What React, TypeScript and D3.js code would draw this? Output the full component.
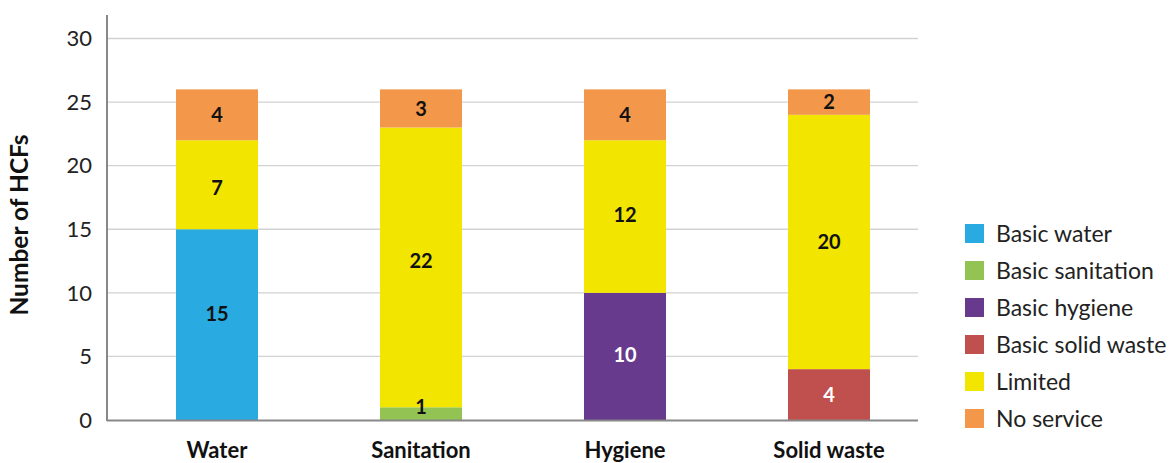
import React from "react";
import * as d3 from "d3";

const categories = ["Water", "Sanitation", "Hygiene", "Solid waste"];
const basicKeys = ["Basic water", "Basic sanitation", "Basic hygiene", "Basic solid waste"];
const basicValues = [15, 1, 10, 4];
const limitedValues = [7, 22, 12, 20];
const noServiceValues = [4, 3, 4, 2];
const yTicks = [0, 5, 10, 15, 20, 25, 30];

const seriesKeys = [...basicKeys, "Limited", "No service"];
const seriesColors = ["#29ABE2", "#92C353", "#673A8D", "#C0504D", "#F2E500", "#F3974A"];
const whiteLabelKeys = ["Basic hygiene", "Basic solid waste"];

// hand-placed value labels (vertical nudge in px from the segment centre)
const labelNudge: { [k: string]: number } = {
  "Water|Basic water": -11,
  "Water|Limited": 3,
  "Sanitation|Basic sanitation": -7,
  "Sanitation|Limited": -7,
  "Hygiene|Basic hygiene": -2,
  "Hygiene|Limited": -2,
};

const W = 1169;
const H = 463;
const FONT = "Lato, 'Noto Sans', sans-serif";

type Row = { [k: string]: number | string };

export default function App() {
  const rows: Row[] = categories.map((c, i) => {
    const r: Row = { category: c };
    basicKeys.forEach((k, j) => (r[k] = j === i ? basicValues[i] : 0));
    r["Limited"] = limitedValues[i];
    r["No service"] = noServiceValues[i];
    return r;
  });

  const stack = d3.stack<Row>().keys(seriesKeys).value((d, k) => d[k] as number);
  const layers = stack(rows);

  const x = d3
    .scaleBand<string>()
    .domain(categories)
    .range([115, 931])
    .paddingInner(0.598)
    .paddingOuter(0.299);
  const y = d3.scaleLinear().domain([0, 30]).range([420, 38.5]);
  const color = d3.scaleOrdinal<string, string>().domain(seriesKeys).range(seriesColors);

  const plotLeft = 107;
  const plotRight = 918;

  return (
    <svg
      width={W}
      height={H}
      style={{ position: "absolute", left: 0, top: 0, background: "#fff" }}
      fontFamily={FONT}
    >
      {/* gridlines */}
      {yTicks.slice(1).map((t) => (
        <line key={t} x1={plotLeft} x2={plotRight} y1={y(t)} y2={y(t)} stroke="#d2d2d2" strokeWidth={1.3} />
      ))}
      {/* tick labels */}
      {yTicks.map((t) => (
        <text key={t} x={92} y={y(t)} dy="0.35em" textAnchor="end" fontSize={22} fill="#222">
          {t}
        </text>
      ))}
      {/* bars */}
      {layers.map((layer) =>
        layer.map((seg, i) => {
          const v = seg[1] - seg[0];
          if (v <= 0) return null;
          const cat = categories[i];
          return (
            <rect
              key={layer.key + cat}
              x={x(cat)}
              width={x.bandwidth()}
              y={y(seg[1])}
              height={y(seg[0]) - y(seg[1])}
              fill={color(layer.key)}
            />
          );
        })
      )}
      {/* value labels */}
      {layers.map((layer) =>
        layer.map((seg, i) => {
          const v = seg[1] - seg[0];
          if (v <= 0) return null;
          const cat = categories[i];
          const cy = (y(seg[0]) + y(seg[1])) / 2 + (labelNudge[cat + "|" + layer.key] || 0);
          return (
            <text
              key={"l" + layer.key + cat}
              x={(x(cat) as number) + x.bandwidth() / 2}
              y={cy}
              dy="0.36em"
              textAnchor="middle"
              fontSize={20}
              fontWeight="bold"
              fill={whiteLabelKeys.includes(layer.key) ? "#fff" : "#111"}
            >
              {v}
            </text>
          );
        })
      )}
      {/* axes */}
      <line x1={plotLeft} x2={plotLeft} y1={15} y2={421} stroke="#888" strokeWidth={2} />
      <line x1={plotLeft} x2={plotRight} y1={420.5} y2={420.5} stroke="#888" strokeWidth={2} />
      {categories.map((c) => (
        <text
          key={c}
          x={(x(c) as number) + x.bandwidth() / 2}
          y={458}
          textAnchor="middle"
          fontSize={22}
          fontWeight="bold"
          fill="#111"
        >
          {c}
        </text>
      ))}
      <text
        transform="translate(28,225) rotate(-90)"
        textAnchor="middle"
        fontSize={24.5}
        fontWeight="bold"
        fill="#111"
      >
        Number of HCFs
      </text>
      {/* legend */}
      {seriesKeys.map((k, i) => (
        <g key={k} transform={`translate(965,${233.5 + 37 * i})`}>
          <rect x={0} y={-9.5} width={19} height={19} fill={color(k)} />
          <text x={31} y={0} dy="0.36em" fontSize={23} fill="#222">
            {k}
          </text>
        </g>
      ))}
    </svg>
  );
}
